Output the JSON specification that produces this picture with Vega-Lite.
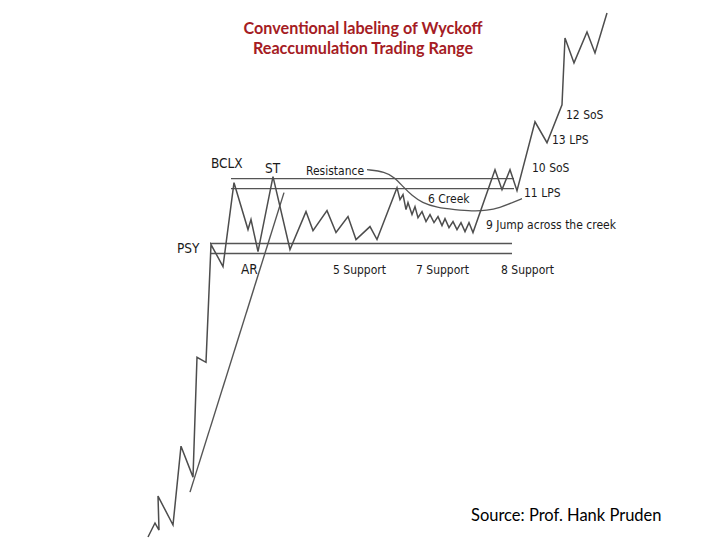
{
  "$schema": "https://vega.github.io/schema/vega-lite/v6.json",
  "width": 720,
  "height": 540,
  "padding": 0,
  "autosize": {"type": "fit", "contains": "padding"},
  "background": "white",
  "config": {"view": {"stroke": null}},
  "datasets": {
    "price": [
      {"i": 1, "t": 148, "p": 2}, {"i": 2, "t": 155, "p": 16}, {"i": 3, "t": 159, "p": 9},
      {"i": 4, "t": 158, "p": 43}, {"i": 5, "t": 173, "p": 14}, {"i": 6, "t": 181, "p": 93},
      {"i": 7, "t": 193, "p": 62}, {"i": 8, "t": 197, "p": 182}, {"i": 9, "t": 206, "p": 177},
      {"i": 10, "t": 211, "p": 295}, {"i": 11, "t": 223, "p": 273}, {"i": 12, "t": 234, "p": 357},
      {"i": 13, "t": 248, "p": 310}, {"i": 14, "t": 251, "p": 320}, {"i": 15, "t": 258, "p": 288},
      {"i": 16, "t": 273, "p": 363}, {"i": 17, "t": 290, "p": 290}, {"i": 18, "t": 306, "p": 328},
      {"i": 19, "t": 313, "p": 309}, {"i": 20, "t": 327, "p": 329}, {"i": 21, "t": 336, "p": 307},
      {"i": 22, "t": 348, "p": 323}, {"i": 23, "t": 356, "p": 300}, {"i": 24, "t": 370, "p": 313},
      {"i": 25, "t": 377, "p": 300}, {"i": 26, "t": 397, "p": 352}, {"i": 27, "t": 400, "p": 340},
      {"i": 28, "t": 403, "p": 345}, {"i": 29, "t": 406, "p": 330}, {"i": 30, "t": 408, "p": 337},
      {"i": 31, "t": 412, "p": 325}, {"i": 32, "t": 415, "p": 333}, {"i": 33, "t": 418, "p": 322},
      {"i": 34, "t": 422, "p": 328}, {"i": 35, "t": 426, "p": 318}, {"i": 36, "t": 430, "p": 325},
      {"i": 37, "t": 434, "p": 317}, {"i": 38, "t": 438, "p": 323}, {"i": 39, "t": 442, "p": 314},
      {"i": 40, "t": 445, "p": 321}, {"i": 41, "t": 449, "p": 312}, {"i": 42, "t": 453, "p": 318},
      {"i": 43, "t": 457, "p": 310}, {"i": 44, "t": 461, "p": 317}, {"i": 45, "t": 465, "p": 308},
      {"i": 46, "t": 469, "p": 317}, {"i": 47, "t": 473, "p": 307}, {"i": 48, "t": 495, "p": 370},
      {"i": 49, "t": 502, "p": 350}, {"i": 50, "t": 510, "p": 370}, {"i": 51, "t": 517, "p": 349},
      {"i": 52, "t": 535, "p": 418}, {"i": 53, "t": 547, "p": 397}, {"i": 54, "t": 562, "p": 435},
      {"i": 55, "t": 565, "p": 502}, {"i": 56, "t": 574, "p": 477}, {"i": 57, "t": 587, "p": 508},
      {"i": 58, "t": 595, "p": 487}, {"i": 59, "t": 607, "p": 527}
    ],
    "trend": [
      {"i": 1, "t": 190, "p": 47}, {"i": 2, "t": 284, "p": 347}
    ],
    "levels": [
      {"level": "Resistance upper", "t0": 231, "t1": 514, "p": 361},
      {"level": "Resistance lower", "t0": 231, "t1": 514, "p": 351},
      {"level": "Support upper", "t0": 210, "t1": 512, "p": 296},
      {"level": "Support lower", "t0": 210, "t1": 512, "p": 286}
    ],
    "creek": [
      {"i": 1, "t": 367, "p": 370}, {"i": 2, "t": 385, "p": 368}, {"i": 3, "t": 395, "p": 362},
      {"i": 4, "t": 403, "p": 353}, {"i": 5, "t": 412, "p": 344}, {"i": 6, "t": 422, "p": 337},
      {"i": 7, "t": 437, "p": 332}, {"i": 8, "t": 455, "p": 330}, {"i": 9, "t": 472, "p": 328.5},
      {"i": 10, "t": 487, "p": 329}, {"i": 11, "t": 500, "p": 332}, {"i": 12, "t": 512, "p": 337},
      {"i": 13, "t": 522, "p": 341}
    ],
    "bigLabels": [
      {"label": "BCLX", "t": 211, "p": 372},
      {"label": "ST", "t": 265, "p": 367},
      {"label": "PSY", "t": 177, "p": 287},
      {"label": "AR", "t": 241, "p": 265}
    ],
    "labels": [
      {"label": "Resistance", "t": 306, "p": 365},
      {"label": "5 Support", "t": 333, "p": 265},
      {"label": "7 Support", "t": 416, "p": 265},
      {"label": "8 Support", "t": 501, "p": 265},
      {"label": "6 Creek", "t": 428, "p": 337},
      {"label": "9 Jump across the creek", "t": 486, "p": 311},
      {"label": "10 SoS", "t": 532, "p": 368},
      {"label": "11 LPS", "t": 524, "p": 343},
      {"label": "12 SoS", "t": 566, "p": 421},
      {"label": "13 LPS", "t": 552, "p": 396}
    ],
    "titles": [
      {"label": "Conventional labeling of Wyckoff", "t": 363, "p": 505.5},
      {"label": "Reaccumulation Trading Range", "t": 363, "p": 486}
    ],
    "source": [
      {"label": "Source: Prof. Hank Pruden", "t": 471, "p": 18}
    ]
  },
  "encoding": {
    "x": {"field": "t", "type": "quantitative", "scale": {"domain": [0, 720], "nice": false, "zero": false}, "axis": null},
    "y": {"field": "p", "type": "quantitative", "scale": {"domain": [0, 540], "nice": false, "zero": false}, "axis": null}
  },
  "layer": [
    {
      "data": {"name": "levels"},
      "mark": {"type": "rule", "color": "#555555", "strokeWidth": 1.4},
      "encoding": {
        "x": {"field": "t0", "type": "quantitative"},
        "x2": {"field": "t1"},
        "y": {"field": "p", "type": "quantitative"}
      }
    },
    {
      "data": {"name": "trend"},
      "mark": {"type": "line", "color": "#555555", "strokeWidth": 1.4},
      "encoding": {"order": {"field": "i", "type": "quantitative"}}
    },
    {
      "data": {"name": "creek"},
      "mark": {"type": "line", "color": "#555555", "strokeWidth": 1.3, "interpolate": "basis"},
      "encoding": {"order": {"field": "i", "type": "quantitative"}}
    },
    {
      "data": {"name": "price"},
      "mark": {"type": "line", "color": "#4d4d4d", "strokeWidth": 1.5, "strokeJoin": "miter"},
      "encoding": {"order": {"field": "i", "type": "quantitative"}}
    },
    {
      "data": {"name": "bigLabels"},
      "mark": {"type": "text", "align": "left", "baseline": "alphabetic", "font": "DejaVu Sans Condensed", "fontSize": 13.5, "color": "#1a1a1a"},
      "encoding": {"text": {"field": "label"}}
    },
    {
      "data": {"name": "labels"},
      "mark": {"type": "text", "align": "left", "baseline": "alphabetic", "font": "DejaVu Sans Condensed", "fontSize": 12, "color": "#1a1a1a"},
      "encoding": {"text": {"field": "label"}}
    },
    {
      "data": {"name": "titles"},
      "mark": {"type": "text", "align": "center", "baseline": "alphabetic", "font": "Lato", "fontWeight": "bold", "fontSize": 16.2, "color": "#a51c24"},
      "encoding": {"text": {"field": "label"}}
    },
    {
      "data": {"name": "source"},
      "mark": {"type": "text", "align": "left", "baseline": "alphabetic", "font": "Lato", "fontSize": 16.5, "color": "#000000"},
      "encoding": {"text": {"field": "label"}}
    }
  ]
}
